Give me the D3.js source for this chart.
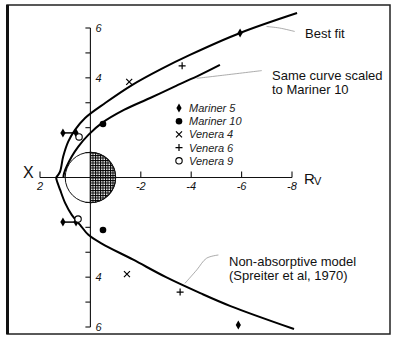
<!DOCTYPE html>
<head>
  <meta charset="utf-8">
  <script src="https://d3js.org/d3.v7.min.js"></script>
  <style>
    body { margin:0; background:#fff; }
    text { font-family: "Liberation Sans", Arial, sans-serif; fill:#111; }
    .tick-lab { font-style: italic; font-size: 11px; }
    .leg { font-style: italic; font-size: 11px; fill:#222; }
    .note { font-size: 13px; }
  </style>
</head>
<body>
<script>
  // curves (X, Y in Venus radii)
  var bestFitX = [1.36, 1.21, 1.08, 0.88, 0.61, 0.21, -0.6, -1.65, -2.8, -3.95, -5.94, -8.2];
  var bestFitY = [0.0, 0.22, 0.84, 1.44, 1.91, 2.39, 3.0, 3.71, 4.35, 4.92, 5.8, 6.6];

  var scaledX = [1.07, 1.04, 0.74, 0.48, 0.08, -0.45, -1.35, -2.37, -3.4, -4.35, -5.14];
  var scaledY = [0.0, 0.19, 0.84, 1.24, 1.71, 2.18, 2.72, 3.19, 3.68, 4.12, 4.52];

  var spreiterX = [1.36, 1.34, 1.2, 1.0, 0.74, 0.41, 0.08, -0.45, -1.7, -3.0, -4.36, -5.56, -8.08];
  var spreiterY = [0.0, -0.1, -0.5, -1.03, -1.5, -1.9, -2.3, -2.65, -3.3, -4.0, -4.64, -5.16, -6.08];

  // spacecraft crossings
  var mariner5 = [[1.09, 1.79], [0.57, 1.79], [-5.94, 5.8], [1.09, -1.79], [0.57, -1.79], [-5.87, -5.92]];
  var mariner10 = [[-0.5, 2.15], [-0.5, -2.11]];
  var venera4 = [[-1.54, 3.84], [-1.45, -3.88]];
  var venera6 = [[-3.64, 4.48], [-3.56, -4.6]];
  var venera9 = [[0.45, 1.63], [0.49, -1.67]];

  var legendNames = ["Mariner 5", "Mariner 10", "Venera 4", "Venera 6", "Venera 9"];
  var xTicks = [2, -2, -4, -6, -8];
  var yTicks = [-6, -5, -4, -3, -2, -1, 1, 2, 3, 4, 5, 6];
  var yLabels = [-6, -4, 4, 6];

  // leader lines (data units)
  var leadBest = [[-6.99, 6.06], [-7.5, 6.0], [-8.11, 5.86]];
  var leadScaled = [[-4.22, 3.98], [-5.4, 4.12], [-6.8, 4.29]];
  var leadSpreiter = [[-3.75, -4.25], [-4.22, -3.71], [-4.61, -3.24], [-5.08, -3.11]];

  var W = 393, H = 338;
  var svg = d3.select("body").append("svg").attr("width", W).attr("height", H);

  var x = d3.scaleLinear().domain([2, -8]).range([40, 292]);
  var y = d3.scaleLinear().domain([6, -6]).range([28, 327]);

  // frame
  svg.append("rect").attr("x", 7).attr("y", 5).attr("width", 383).attr("height", 329)
    .attr("fill", "none").attr("stroke", "#222").attr("stroke-width", 1.5);
  svg.append("line").attr("x1", 7.5).attr("x2", 7.5).attr("y1", 5).attr("y2", 334)
    .attr("stroke", "#111").attr("stroke-width", 3);

  // hatch pattern
  var pat = svg.append("defs").append("pattern").attr("id", "hatch")
    .attr("patternUnits", "userSpaceOnUse").attr("width", 2.5).attr("height", 2.5);
  pat.append("rect").attr("width", 2.5).attr("height", 2.5).attr("fill", "#fff");
  pat.append("path").attr("d", "M0,0.5H2.5M0.5,0V2.5").attr("stroke", "#000").attr("stroke-width", 1);

  // Venus
  var cx = x(0), cy = y(0), r = x(0) - x(1);
  svg.append("circle").attr("cx", cx).attr("cy", cy).attr("r", r)
    .attr("fill", "none").attr("stroke", "#111").attr("stroke-width", 1);
  svg.append("path")
    .attr("d", "M" + cx + "," + (cy - r) + "A" + r + "," + r + " 0 0 1 " + cx + "," + (cy + r) + "Z")
    .attr("fill", "url(#hatch)").attr("stroke", "#111").attr("stroke-width", 1.2);

  // axes
  var ax = svg.append("g").attr("stroke", "#111").attr("stroke-width", 1.1);
  ax.append("line").attr("x1", x(2)).attr("x2", x(-8)).attr("y1", y(0)).attr("y2", y(0));
  ax.append("line").attr("x1", x(0)).attr("x2", x(0)).attr("y1", y(6)).attr("y2", y(-6));
  ax.selectAll(".xt").data(xTicks).enter().append("line")
    .attr("x1", d => x(d)).attr("x2", d => x(d)).attr("y1", y(0)).attr("y2", y(0) - 6);
  ax.selectAll(".yt").data(yTicks).enter().append("line")
    .attr("x1", x(0)).attr("x2", x(0) - 5).attr("y1", d => y(d)).attr("y2", d => y(d));

  svg.selectAll(".xl").data(xTicks).enter().append("text").attr("class", "tick-lab")
    .attr("x", d => x(d)).attr("y", y(0) + 12).attr("text-anchor", "middle")
    .text(d => d > 0 ? d : "-" + Math.abs(d));
  svg.selectAll(".yl").data(yLabels).enter().append("text").attr("class", "tick-lab")
    .attr("x", x(0) + 5).attr("y", d => y(d) + 4).text(d => Math.abs(d));

  svg.append("text").attr("x", 23).attr("y", 178).style("font-size", "16px").text("X");
  svg.append("text").attr("x", 304).attr("y", 184).style("font-size", "15px").text("R");
  svg.append("text").attr("x", 314).attr("y", 185).style("font-size", "11px").text("V");

  // curves
  var line = d3.line().x(d => x(d[0])).y(d => y(d[1])).curve(d3.curveCatmullRom);
  function pts(a, b) { return a.map((v, i) => [v, b[i]]); }
  [pts(bestFitX, bestFitY), pts(scaledX, scaledY), pts(spreiterX, spreiterY)].forEach(function(p) {
    svg.append("path").attr("d", line(p)).attr("fill", "none")
      .attr("stroke", "#000").attr("stroke-width", 2);
  });

  // leader lines
  [leadBest, leadScaled, leadSpreiter].forEach(function(p) {
    svg.append("path").attr("d", line(p)).attr("fill", "none")
      .attr("stroke", "#888").attr("stroke-width", 0.7);
  });

  // markers
  function drawMark(g, type) {
    if (type == 0) g.append("path").attr("d", "M0,-4.5L2.6,0L0,4.5L-2.6,0Z").attr("fill", "#000");
    if (type == 1) g.append("circle").attr("r", 3.3).attr("fill", "#000");
    if (type == 2) g.append("path").attr("d", "M-3,-3L3,3M-3,3L3,-3").attr("stroke", "#000").attr("stroke-width", 1.2);
    if (type == 3) g.append("path").attr("d", "M-3.5,0H3.5M0,-3.5V3.5").attr("stroke", "#000").attr("stroke-width", 1.2);
    if (type == 4) g.append("circle").attr("r", 3.2).attr("fill", "#fff").attr("stroke", "#000").attr("stroke-width", 1.1);
  }

  // Mariner 5 error bars
  [[mariner5[0], mariner5[1]], [mariner5[3], mariner5[4]]].forEach(function(p) {
    svg.append("line").attr("x1", x(p[0][0])).attr("x2", x(p[1][0]))
      .attr("y1", y(p[0][1])).attr("y2", y(p[1][1])).attr("stroke", "#000").attr("stroke-width", 1.5);
  });

  [mariner5, mariner10, venera4, venera6, venera9].forEach(function(set, k) {
    set.forEach(function(d) {
      drawMark(svg.append("g").attr("transform", "translate(" + x(d[0]) + "," + y(d[1]) + ")"), k);
    });
  });

  // legend
  legendNames.forEach(function(n, i) {
    var ly = 108 + i * 13.2;
    drawMark(svg.append("g").attr("transform", "translate(179," + ly + ")"), i);
    svg.append("text").attr("class", "leg").attr("x", 189).attr("y", ly + 4).text(n);
  });

  // notes
  svg.append("text").attr("class", "note").attr("x", 305).attr("y", 38).text("Best fit");
  svg.append("text").attr("class", "note").attr("x", 272).attr("y", 80).text("Same curve scaled");
  svg.append("text").attr("class", "note").attr("x", 272).attr("y", 94).text("to Mariner 10");
  svg.append("text").attr("class", "note").attr("x", 229).attr("y", 266).text("Non-absorptive model");
  svg.append("text").attr("class", "note").attr("x", 229).attr("y", 280).text("(Spreiter et al, 1970)");
</script>
</body>
